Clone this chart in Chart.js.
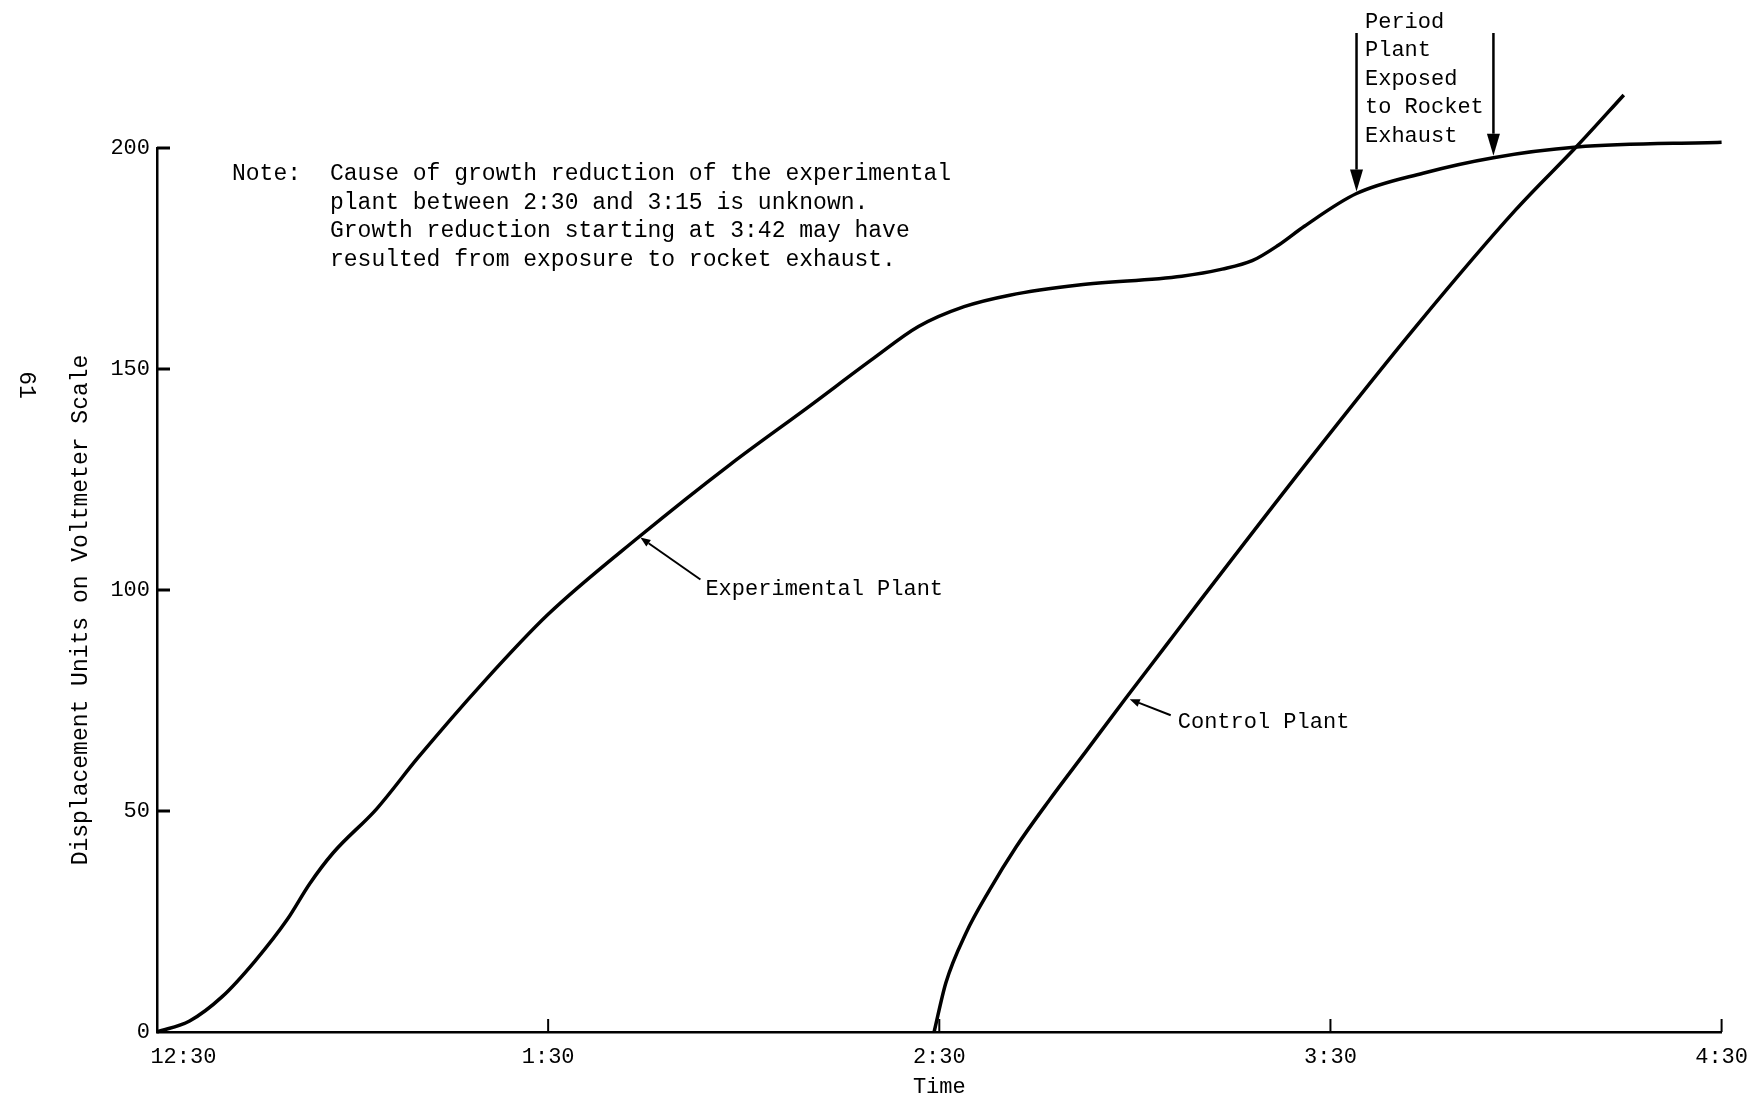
<!DOCTYPE html>
<html><head><meta charset="utf-8">
<script src="https://cdn.jsdelivr.net/npm/chart.js@4.4.1/dist/chart.umd.min.js"></script>
<style>html,body{margin:0;padding:0;background:#fff}canvas{display:block}</style>
</head><body>
<canvas id="c" width="1760" height="1100"></canvas>
<script>
// ---- data (minutes after 12:30, displacement units) ----
const expTime  = [0, 5, 10, 15, 20, 23.4, 27, 33.7, 40, 50, 60, 74, 88, 100, 110, 116.8, 123.8, 130.8, 141.4, 157.2, 163.4, 168, 172, 176, 184, 194.2, 205, 217.8, 240];
const expValue = [0, 2.5, 8, 16, 25.5, 33.5, 40.5, 50.5, 62, 79, 94.5, 112.1, 128.5, 141.5, 152.5, 159.6, 164.1, 166.7, 169, 171, 172.6, 174.5, 178, 182.3, 189.7, 194.3, 197.8, 200.2, 201.3];
const ctrlTime  = [119.2, 121, 124.1, 127.7, 131.8, 136.9, 142.5, 148.6, 154.7, 159.8, 176.7, 193.1, 208.4, 217.8, 225];
const ctrlValue = [0, 11.1, 22.4, 32.1, 41.9, 52.5, 63.5, 75.5, 87.3, 97.2, 129.4, 159.6, 186, 200.4, 212];
const xTickValues = [0, 60, 120, 180, 240];
const xTickLabels = ['12:30', '1:30', '2:30', '3:30', '4:30'];
const yTickValues = [0, 50, 100, 150, 200];
const exposureTimes = [184, 205];
const seriesNames = ['Experimental Plant', 'Control Plant'];
const leaderTargets = [[74, 112.1], [148.6, 75.5]];
const noteLabel = 'Note:';
const noteLines = [
  'Cause of growth reduction of the experimental',
  'plant between 2:30 and 3:15 is unknown.',
  'Growth reduction starting at 3:42 may have',
  'resulted from exposure to rocket exhaust.'
];
const periodLines = ['Period', 'Plant', 'Exposed', 'to Rocket', 'Exhaust'];
const xTitle = 'Time';
const yTitle = 'Displacement Units on Voltmeter Scale';
const pageNumber = '61';

const FONT = "'Liberation Mono', 'DejaVu Sans Mono', monospace";

function arrow(ctx, x1, y1, x2, y2, headLen, headW, lw) {
  ctx.lineWidth = lw;
  const a = Math.atan2(y2 - y1, x2 - x1);
  const bx = x2 - headLen * Math.cos(a), by = y2 - headLen * Math.sin(a);
  ctx.beginPath(); ctx.moveTo(x1, y1); ctx.lineTo(bx, by); ctx.stroke();
  ctx.beginPath(); ctx.moveTo(x2, y2);
  ctx.lineTo(bx + headW / 2 * Math.sin(a), by - headW / 2 * Math.cos(a));
  ctx.lineTo(bx - headW / 2 * Math.sin(a), by + headW / 2 * Math.cos(a));
  ctx.closePath(); ctx.fill();
}

const overlay = {
  id: 'overlay',
  afterDatasetsDraw(chart) {
    const {ctx, scales: {x, y}} = chart;
    ctx.save();
    ctx.strokeStyle = '#000'; ctx.fillStyle = '#000'; ctx.lineCap = 'butt';
    // inward tick marks
    ctx.lineWidth = 3;
    yTickValues.forEach(v => {
      if (v === 0) return;
      const py = y.getPixelForValue(v);
      ctx.beginPath(); ctx.moveTo(x.left, py); ctx.lineTo(x.left + 13, py); ctx.stroke();
    });
    ctx.lineWidth = 2;
    xTickValues.forEach(v => {
      if (v === 0) return;
      const px = x.getPixelForValue(v);
      ctx.beginPath(); ctx.moveTo(px, y.bottom); ctx.lineTo(px, y.bottom - 13); ctx.stroke();
    });
    // note
    ctx.font = '23px ' + FONT; ctx.textBaseline = 'middle'; ctx.textAlign = 'left';
    ctx.fillText(noteLabel, 232, 174);
    const noteY = [174, 203, 231, 260];
    noteLines.forEach((s, i) => ctx.fillText(s, 330, noteY[i]));
    // leader labels
    ctx.font = '22px ' + FONT;
    const offs = [{tip: [1, 1], start: [60, 42], text: [65, 52]}, {tip: [4, 1], start: [41, 16], text: [48, 23]}];
    leaderTargets.forEach((t, i) => {
      const tx = x.getPixelForValue(t[0]) + offs[i].tip[0];
      const ty = y.getPixelForValue(t[1]) + offs[i].tip[1];
      arrow(ctx, tx + offs[i].start[0], ty + offs[i].start[1], tx, ty, 10, 8, 2);
      ctx.fillText(seriesNames[i], tx + offs[i].text[0], ty + offs[i].text[1]);
    });
    // exposure period arrows
    exposureTimes.forEach(t => {
      const px = x.getPixelForValue(t);
      const idx = expTime.indexOf(t);
      const py = y.getPixelForValue(expValue[idx]) - 2;
      arrow(ctx, px, 33, px, py, 22, 13, 2.5);
    });
    const pY = [22, 50, 79, 107, 136];
    periodLines.forEach((s, i) => ctx.fillText(s, 1365, pY[i]));
    // y title
    ctx.font = '23px ' + FONT; ctx.textAlign = 'center';
    ctx.save(); ctx.translate(81, 610); ctx.rotate(-Math.PI / 2); ctx.fillText(yTitle, 0, 0); ctx.restore();
    ctx.save(); ctx.translate(26, 385); ctx.rotate(Math.PI / 2); ctx.fillText(pageNumber, 0, 0); ctx.restore();
    ctx.restore();
  }
};

new Chart(document.getElementById('c'), {
  type: 'line',
  data: {
    datasets: [
      { label: seriesNames[0], data: expTime.map((t, i) => ({x: t, y: expValue[i]})) },
      { label: seriesNames[1], data: ctrlTime.map((t, i) => ({x: t, y: ctrlValue[i]})) }
    ].map(d => Object.assign(d, {
      borderColor: '#000', borderWidth: 3.5, pointRadius: 0, fill: false,
      cubicInterpolationMode: 'monotone', clip: false
    }))
  },
  options: {
    responsive: false, animation: false, devicePixelRatio: 1,
    layout: { padding: { left: 0, right: 37, top: 148, bottom: 0 } },
    plugins: { legend: { display: false }, tooltip: { enabled: false } },
    scales: {
      x: {
        type: 'linear', min: 0, max: 240,
        afterBuildTicks: s => { s.ticks = xTickValues.map(v => ({value: v})); },
        afterFit: s => { s.height = 68; },
        grid: { display: true, drawOnChartArea: false, drawTicks: false },
        border: { display: true, color: '#000', width: 2.5 },
        ticks: {
          autoSkip: false, maxRotation: 0, padding: 12, color: '#000',
          font: { family: FONT, size: 22 },
          callback: v => { const i = xTickValues.indexOf(v); return i < 0 ? '' : (i === 0 ? '    ' + xTickLabels[0] : xTickLabels[i]); }
        },
        title: { display: true, text: xTitle, color: '#000', font: { family: FONT, size: 22 }, padding: { top: 0, bottom: 0 } }
      },
      y: {
        type: 'linear', min: 0, max: 200,
        afterBuildTicks: s => { s.ticks = yTickValues.map(v => ({value: v})); },
        afterFit: s => { s.width = 157; },
        grid: { display: true, drawOnChartArea: false, drawTicks: false },
        border: { display: true, color: '#000', width: 2.5 },
        ticks: { padding: 7, color: '#000', font: { family: FONT, size: 22 } }
      }
    }
  },
  plugins: [overlay]
});
</script>
</body></html>
